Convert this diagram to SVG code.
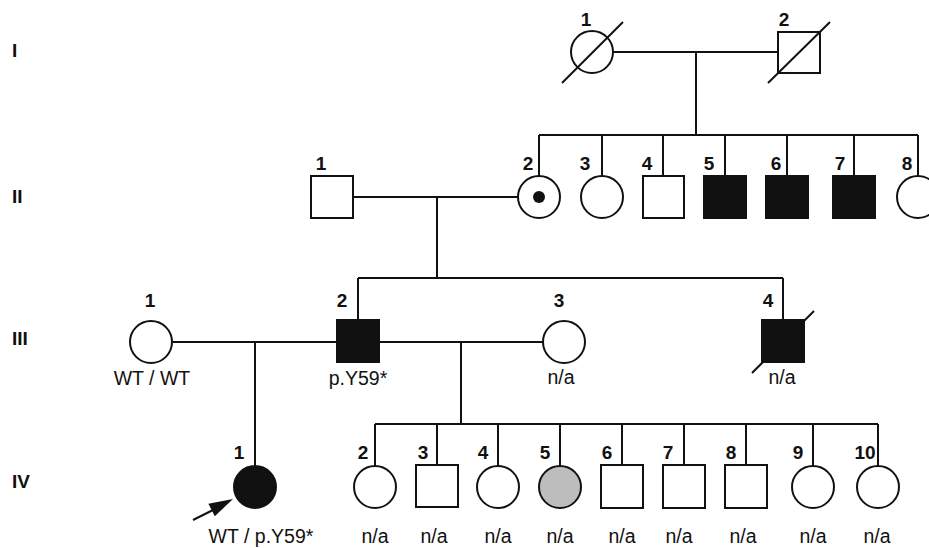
<svg xmlns="http://www.w3.org/2000/svg" width="929" height="548" viewBox="0 0 929 548">
<style>
.ln{stroke:#111;stroke-width:2;fill:none}
.o{stroke:#111;stroke-width:2;fill:#fff}
.a{stroke:#111;stroke-width:2;fill:#111}
.g{stroke:#111;stroke-width:2;fill:#bdbdbd}
.n{font-family:"Liberation Sans",Arial,sans-serif;font-size:19px;font-weight:bold;fill:#111;text-anchor:middle}
.gen{font-family:"Liberation Sans",Arial,sans-serif;font-size:19px;font-weight:bold;fill:#111}
.t{font-family:"Liberation Sans",Arial,sans-serif;font-size:19.5px;fill:#111;text-anchor:middle}
</style>
<rect width="929" height="548" fill="#fff"/>
<g id="generations">
<text class="gen" x="12" y="57">I</text>
<text class="gen" x="12" y="203">II</text>
<text class="gen" x="12" y="345">III</text>
<text class="gen" x="12" y="488">IV</text>
</g>
<g id="connectors" class="ln">
<path d="M613 52H778M696 52V135M539 135H918M539 135V176M602 135V176M663 135V176M725 135V176M787 135V176M854 135V176M918 135V176"/>
<path d="M353 197H518M437 197V278M358 278H783M358 278V320M783 278V320"/>
<path d="M172 342H337M255 342V466"/>
<path d="M379 342H543M461 342V424M375 424H878M375 424V466M437 424V465M498 424V466M560 424V466M622 424V465M684 424V465M746 424V465M813 424V466M878 424V466"/>
</g>
<g id="I-1"><circle class="o" cx="592" cy="52" r="21"/><line class="ln" x1="562" y1="83" x2="623" y2="22"/><text class="n" x="586" y="26">1</text></g>
<g id="I-2"><rect class="o" x="778" y="32" width="42" height="41"/><line class="ln" x1="768" y1="83" x2="830" y2="22"/><text class="n" x="784" y="26">2</text></g>
<g id="II-1"><rect class="o" x="311" y="176" width="42" height="42"/><text class="n" x="321" y="170">1</text></g>
<g id="II-2"><circle class="o" cx="539" cy="197" r="21"/><circle cx="539" cy="197" r="6" fill="#111"/><text class="n" x="528" y="170">2</text></g>
<g id="II-3"><circle class="o" cx="602" cy="197" r="21"/><text class="n" x="585" y="170">3</text></g>
<g id="II-4"><rect class="o" x="643" y="176" width="41" height="42"/><text class="n" x="647" y="170">4</text></g>
<g id="II-5"><rect class="a" x="704" y="176" width="42" height="42"/><text class="n" x="709" y="170">5</text></g>
<g id="II-6"><rect class="a" x="766" y="176" width="42" height="42"/><text class="n" x="776" y="170">6</text></g>
<g id="II-7"><rect class="a" x="833" y="176" width="42" height="42"/><text class="n" x="840" y="170">7</text></g>
<g id="II-8"><circle class="o" cx="918" cy="197" r="21"/><text class="n" x="907" y="170">8</text></g>
<g id="III-1"><circle class="o" cx="151" cy="342" r="21"/><text class="n" x="150" y="307">1</text><text class="t" x="152" y="385">WT / WT</text></g>
<g id="III-2"><rect class="a" x="337" y="320" width="42" height="42"/><text class="n" x="342" y="307">2</text><text class="t" x="358" y="385">p.Y59*</text></g>
<g id="III-3"><circle class="o" cx="564" cy="342" r="21"/><text class="n" x="559" y="307">3</text><text class="t" x="561" y="384">n/a</text></g>
<g id="III-4"><rect class="a" x="762" y="320" width="42" height="42"/><line class="ln" x1="752" y1="373" x2="814" y2="311"/><text class="n" x="768" y="307">4</text><text class="t" x="782" y="384">n/a</text></g>
<g id="IV-1"><circle class="a" cx="255" cy="487" r="21"/><line class="ln" x1="193" y1="520" x2="213" y2="510" stroke-width="3"/><polygon points="233,499 208.4,503.8 214.8,516.2" fill="#111"/><text class="n" x="239" y="459">1</text><text class="t" x="261" y="543">WT / p.Y59*</text></g>
<g id="IV-2"><circle class="o" cx="375" cy="487" r="21"/><text class="n" x="363" y="459">2</text><text class="t" x="375" y="543">n/a</text></g>
<g id="IV-3"><rect class="o" x="416" y="465" width="42" height="42"/><text class="n" x="423" y="459">3</text><text class="t" x="434" y="543">n/a</text></g>
<g id="IV-4"><circle class="o" cx="498" cy="487" r="21"/><text class="n" x="483" y="459">4</text><text class="t" x="498" y="543">n/a</text></g>
<g id="IV-5"><circle class="g" cx="560" cy="487" r="21"/><text class="n" x="545" y="459">5</text><text class="t" x="560" y="543">n/a</text></g>
<g id="IV-6"><rect class="o" x="601" y="465" width="42" height="43"/><text class="n" x="607" y="459">6</text><text class="t" x="622" y="543">n/a</text></g>
<g id="IV-7"><rect class="o" x="663" y="465" width="42" height="43"/><text class="n" x="668" y="459">7</text><text class="t" x="679" y="543">n/a</text></g>
<g id="IV-8"><rect class="o" x="725" y="465" width="42" height="43"/><text class="n" x="731" y="459">8</text><text class="t" x="743" y="543">n/a</text></g>
<g id="IV-9"><circle class="o" cx="813" cy="487" r="21"/><text class="n" x="798" y="459">9</text><text class="t" x="813" y="543">n/a</text></g>
<g id="IV-10"><circle class="o" cx="878" cy="487" r="21"/><text class="n" x="865" y="459">10</text><text class="t" x="877" y="543">n/a</text></g>
</svg>
